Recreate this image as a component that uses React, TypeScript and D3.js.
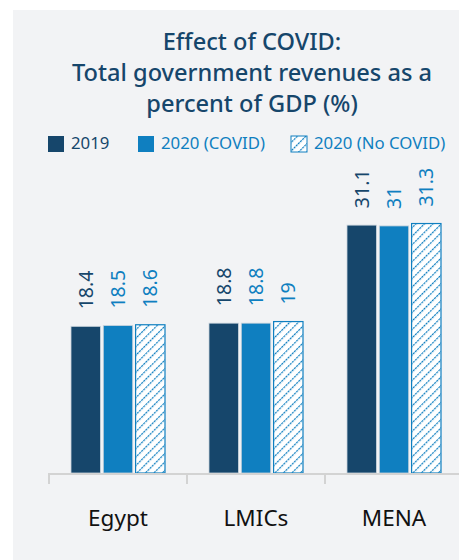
import React from "react";
import * as d3 from "d3";

const categories = ["Egypt", "LMICs", "MENA"];
const seriesNames = ["2019", "2020 (COVID)", "2020 (No COVID)"];
const values2019 = [18.4, 18.8, 31.1];
const valuesCovid = [18.5, 18.8, 31];
const valuesNoCovid = [18.6, 19, 31.3];
const titleLines = ["Effect of COVID:", "Total government revenues as a", "percent of GDP (%)"];

const W = 459;
const H = 560;
const DARK = "#16466b";
const BLUE = "#0f7fc0";
const FONT = "'Noto Sans', sans-serif";

export default function App() {
  const series = [values2019, valuesCovid, valuesNoCovid];
  const x = d3.scaleBand<string>().domain(categories).range([49, 463]).paddingInner(0).paddingOuter(0);
  const xi = d3.scaleBand<string>().domain(seriesNames).range([22, 116]).paddingInner(0.09);
  const y = d3.scaleLinear().domain([0, 35]).range([473, 473 - 35 * 7.97]);
  const fills = [DARK, BLUE, "url(#hatch)"];
  const labelColors = [DARK, BLUE, BLUE];
  const legendX = [48, 138, 291];

  return (
    <svg width={W} height={H} style={{ position: "absolute", left: 0, top: 0 }}>
      <defs>
        <pattern id="hatch" patternUnits="userSpaceOnUse" width="6" height="6" patternTransform="rotate(45)">
          <rect width="6" height="6" fill="#ffffff" />
          <line x1="0" y1="0" x2="0" y2="6" stroke={BLUE} strokeWidth="2.4" strokeDasharray="2.2 0.8" />
        </pattern>
      </defs>
      <rect x={13} y={10} width={W - 13} height={H - 10} fill="#f2f3f5" />
      {titleLines.map((t, i) => (
        <text key={t} x={252} y={50 + i * 31} textAnchor="middle" fontFamily={FONT} fontSize={23.6} fontWeight={500} fill={DARK}>
          {t}
        </text>
      ))}
      {seriesNames.map((s, i) => (
        <g key={s}>
          <rect x={legendX[i]} y={136} width={16} height={16} fill={fills[i]} stroke={i === 2 ? BLUE : "none"} strokeWidth={1} />
          <text x={legendX[i] + 23} y={149} fontFamily={FONT} fontSize={16.8} fill={labelColors[i]}>
            {s}
          </text>
        </g>
      ))}
      {categories.map((c, ci) => (
        <g key={c} transform={`translate(${x(c)},0)`}>
          {series.map((vals, si) => {
            const bx = xi(seriesNames[si])!;
            const bw = xi.bandwidth();
            const top = y(vals[ci]);
            return (
              <g key={si}>
                <rect
                  x={bx}
                  y={top}
                  width={bw}
                  height={y(0) - top}
                  fill={fills[si]}
                  stroke={si === 2 ? BLUE : "#c9d3dc"}
                  strokeWidth={si === 2 ? 1.2 : 0.8}
                />
                <text
                  transform={`translate(${bx + bw / 2 + 7},${top - 17}) rotate(-90)`}
                  fontFamily={FONT}
                  fontSize={19.5}
                  fill={labelColors[si]}
                >
                  {String(vals[ci])}
                </text>
              </g>
            );
          })}
          <text x={x.bandwidth() / 2} y={526} textAnchor="middle" fontFamily={FONT} fontSize={22.5} fill="#111">
            {c}
          </text>
        </g>
      ))}
      <line x1={49} x2={W} y1={474} y2={474} stroke="#d3d3d3" strokeWidth={2} />
      {categories.map((c) => (
        <line key={c} x1={x(c)!} x2={x(c)!} y1={473} y2={484} stroke="#d3d3d3" strokeWidth={2} />
      ))}
    </svg>
  );
}
